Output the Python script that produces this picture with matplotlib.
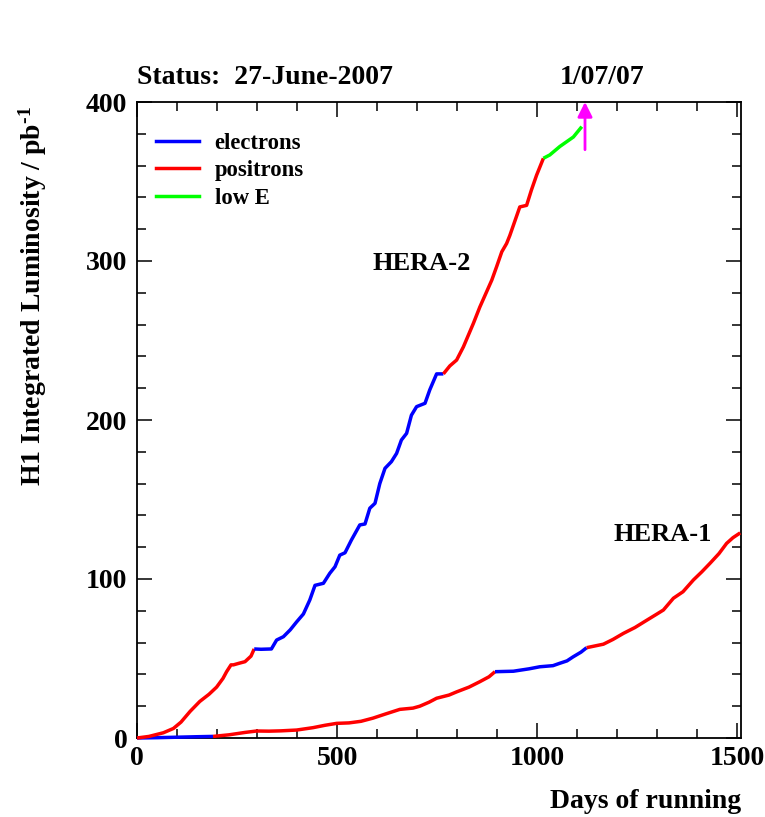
import matplotlib
matplotlib.use("Agg")
import matplotlib.pyplot as plt
from matplotlib.lines import Line2D
from matplotlib.ticker import MultipleLocator

# ---------------- data ----------------
# HERA-1 (lower curve)
h1_e1_days = [0, 50, 100, 150, 190]
h1_e1_lumi = [0, 0.2, 0.5, 0.8, 1.0]
h1_p1_days = [190, 230, 270, 299, 330, 360, 399, 440, 470, 499, 530, 560, 590, 620,
              657, 690, 707, 730, 749, 780, 799, 830, 857, 880, 895]
h1_p1_lumi = [1.0, 2.0, 3.5, 4.4, 4.3, 4.5, 5.0, 6.5, 8.0, 9.2, 9.5, 10.5, 12.5, 15.0,
              18.0, 18.8, 20.0, 22.5, 25.0, 27.0, 29.0, 32.0, 35.4, 38.5, 41.7]
h1_e2_days = [895, 941, 980, 1007, 1040, 1057, 1075, 1090, 1110, 1124]
h1_e2_lumi = [41.7, 42.0, 43.5, 44.8, 45.5, 47.0, 48.5, 51.0, 54.0, 56.8]
h1_p2_days = [1124, 1166, 1190, 1216, 1245, 1274, 1300, 1316, 1341, 1365, 1391, 1412,
              1433, 1455, 1474, 1490, 1508]
h1_p2_lumi = [56.8, 59.0, 62.0, 65.8, 69.5, 74.0, 78.0, 80.5, 87.9, 92.0, 99.4, 104.5,
              110.0, 116.0, 122.4, 126.0, 129.0]

# HERA-2 (upper curve)
h2_p1_days = [0, 30, 66, 91, 110, 133, 157, 180, 199, 215, 224, 235, 241, 255, 270, 285, 293]
h2_p1_lumi = [0, 1.0, 3.3, 6.0, 10.0, 16.8, 23.0, 27.5, 32.0, 37.5, 41.7, 46.0, 46.0, 47.0,
              48.0, 51.5, 56.0]
h2_e1_days = [293, 310, 336, 349, 366, 383, 399, 416, 432, 445, 466, 482, 495, 507, 520,
              536, 557, 570, 582, 595, 607, 620, 636, 649, 661, 674, 686, 699, 720, 732,
              749, 766]
h2_e1_lumi = [56.0, 55.8, 56.0, 61.6, 63.7, 68.0, 73.0, 78.0, 86.8, 96.0, 97.3, 103.6,
              107.7, 115.0, 116.5, 124.5, 134.0, 134.6, 144.5, 147.6, 160.0, 169.6, 173.8,
              179.0, 187.4, 191.6, 203.0, 208.4, 210.5, 219.0, 229.0, 229.0]
h2_p2_days = [766, 782, 799, 816, 841, 857, 887, 899, 912, 924, 932, 957, 974, 986, 999, 1016]
h2_p2_lumi = [229.0, 234.0, 237.7, 246.0, 260.8, 271.0, 288.0, 296.4, 305.8, 311.0, 316.0,
              334.0, 335.0, 344.6, 354.0, 364.6]
h2_lowE_days = [1016, 1032, 1057, 1091, 1112]
h2_lowE_lumi = [364.6, 366.7, 372.0, 378.0, 384.5]

arrow_day = 1120
arrow_from = 370
arrow_to = 400

legend_labels = ["electrons", "positrons", "low E"]
x_ticks_major = [0, 500, 1000, 1500]
y_ticks_major = [0, 100, 200, 300, 400]

# ---------------- style ----------------
plt.rcParams['font.family'] = ['Liberation Serif', 'DejaVu Serif']
plt.rcParams['font.weight'] = 'bold'
plt.rcParams['mathtext.fontset'] = 'custom'
plt.rcParams['mathtext.rm'] = 'Liberation Serif:bold'
plt.rcParams['mathtext.it'] = 'Liberation Serif:bold'
plt.rcParams['mathtext.bf'] = 'Liberation Serif:bold'

BLUE = '#0000ff'
RED = '#ff0000'
GREEN = '#00ff00'
MAG = '#ff00ff'
LW = 2.5

fig = plt.figure(figsize=(7.65, 8.17), dpi=100)
ax = fig.add_axes([137/765, 1-738/817, (741-137)/765, (738-102)/817])

for d, v, c in [(h1_e1_days, h1_e1_lumi, BLUE), (h1_p1_days, h1_p1_lumi, RED),
                (h1_e2_days, h1_e2_lumi, BLUE), (h1_p2_days, h1_p2_lumi, RED),
                (h2_p1_days, h2_p1_lumi, RED), (h2_e1_days, h2_e1_lumi, BLUE),
                (h2_p2_days, h2_p2_lumi, RED), (h2_lowE_days, h2_lowE_lumi, GREEN)]:
    ax.plot(d, v, color=c, lw=LW, solid_capstyle='butt', clip_on=False, zorder=3)

ax.annotate('', xy=(arrow_day, arrow_to), xytext=(arrow_day, arrow_from),
            arrowprops=dict(arrowstyle='-|>', color=MAG, lw=2.0, mutation_scale=22,
                            shrinkA=0, shrinkB=0), annotation_clip=False, zorder=4)

ax.set_xlim(0, 1510)
ax.set_ylim(0, 400)
ax.set_xticks(x_ticks_major)
ax.set_yticks(y_ticks_major)
ax.xaxis.set_minor_locator(MultipleLocator(100))
ax.yaxis.set_minor_locator(MultipleLocator(20))
ax.tick_params(which='both', direction='in', top=True, right=True, width=1.1)
ax.tick_params(which='major', length=11)
ax.tick_params(which='minor', length=6.5)
ax.tick_params(axis='x', which='major', labelsize=20, pad=6)
ax.tick_params(axis='y', which='major', labelsize=20, pad=7)
for lab in ax.get_xticklabels() + ax.get_yticklabels():
    lab.set_fontweight('bold')
for s in ax.spines.values():
    s.set_linewidth(1.3)

handles = [Line2D([], [], color=BLUE, lw=LW), Line2D([], [], color=RED, lw=LW),
           Line2D([], [], color=GREEN, lw=LW)]
ax.legend(handles, legend_labels, loc='upper left', bbox_to_anchor=(0.031, 0.952),
          frameon=False, handlelength=1.9, handletextpad=0.7,
          labelspacing=0.3, borderpad=0, borderaxespad=0,
          prop={'weight': 'bold', 'size': 16.3})

ax.text(588, 298.5, 'HERA-2', ha='left', va='center', fontsize=19, fontweight='bold')
ax.text(1192, 128.3, 'HERA-1', ha='left', va='center', fontsize=19, fontweight='bold')

fig.text(137/765, 1-78/817, 'Status:  27-June-2007', ha='left', va='center',
         fontsize=20, fontweight='bold')
fig.text(602/765, 1-78/817, '1/07/07', ha='center', va='center',
         fontsize=20, fontweight='bold')
fig.text(741/765, 1-802/817, 'Days of running', ha='right', va='center',
         fontsize=20, fontweight='bold')
fig.text(33/765, 1-106/817, r'H1 Integrated Luminosity / pb$^{\text{-1}}$', ha='center',
         va='top', rotation=90, fontsize=20, fontweight='bold')

fig.savefig('out.png', dpi=100, facecolor='white')
